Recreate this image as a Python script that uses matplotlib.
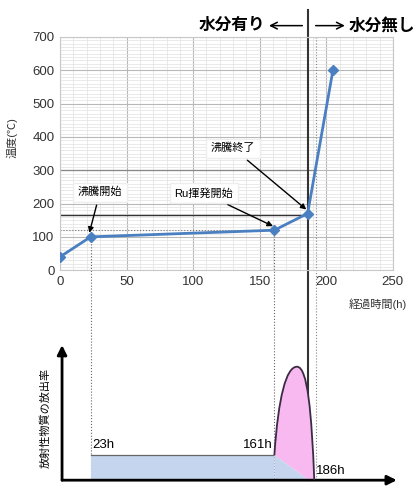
import matplotlib.pyplot as plt
from matplotlib.path import Path
from matplotlib.patches import PathPatch, Polygon
from matplotlib.ticker import MultipleLocator
import matplotlib.transforms as mtransforms

plt.rcParams['font.family'] = ['Liberation Sans', 'Noto Sans CJK JP', 'DejaVu Sans']

# 経過時間(h) と 温度(℃)
hours = [0, 23, 161, 186, 205]
temps = [40, 100, 120, 170, 600]

# 注記
notes = ['沸騰開始', 'Ru揮発開始', '沸騰終了']
note_xy = [(23, 100), (161, 120), (186, 170)]
note_text_xy = [(30, 234), (108, 231), (130, 366)]

# 放出率の模式図 (相対値)
release_start = 23
release_flat_end = 161
release_end = 186
flat_level = 0.185
peak_hour = 178
peak_level = 0.84
bump_end = 191

line_blue = '#4a7fc1'

fig = plt.figure(figsize=(4.17, 4.93), dpi=100)
ax = fig.add_axes([0.144, 0.452, 0.798, 0.473])
ax.set_xlim(0, 250)
ax.set_ylim(0, 700)
ax.xaxis.set_major_locator(MultipleLocator(50))
ax.yaxis.set_major_locator(MultipleLocator(100))
ax.xaxis.set_minor_locator(MultipleLocator(10))
ax.yaxis.set_minor_locator(MultipleLocator(10))
ax.grid(which='major', color='#b8b8b8', lw=0.8)
ax.grid(which='minor', color='#e2e2e2', lw=0.5)
ax.set_axisbelow(True)
ax.tick_params(which='both', length=0, labelsize=9.5, colors='#333333', pad=4)
for s in ax.spines.values():
    s.set_color('#c8c8c8')

# 補助線
ax.plot([0, 186], [165, 165], color='#333333', lw=1.0, zorder=2)
ax.plot([0, 161], [120, 120], color='#777777', lw=0.8, ls=':', zorder=2)
ax.plot([0, 192], [300, 300], color='#888888', lw=0.9, zorder=2)

ax.plot(hours, temps, color=line_blue, lw=2, marker='D', ms=5.5, zorder=4)

for txt, xy, txy in zip(notes, note_xy, note_text_xy):
    ax.annotate(txt, xy=(xy[0] - 1, xy[1] + 12), xytext=txy, fontsize=8, ha='center', va='center',
                bbox=dict(boxstyle='square,pad=0.4', fc='white', ec='#eeeeee'),
                arrowprops=dict(arrowstyle='-|>', color='black', lw=1.0, mutation_scale=8,
                                shrinkA=2, shrinkB=0),
                zorder=5)

fig.text(0.975, 0.382, '経過時間(h)', fontsize=8, ha='right', va='center', color='#333333')
fig.text(0.028, 0.72, '温度(℃)', fontsize=8, rotation=90, ha='center', va='center', color='#333333')

# 下段: 放出率
bx = fig.add_axes([0.144, 0.026, 0.798, 0.274])
bx.set_xlim(0, 250)
bx.set_ylim(0, 1)
bx.axis('off')

bx.fill_between([release_start, release_flat_end], 0, flat_level, color='#c5d5ee', lw=0)
bx.plot([release_start, release_flat_end], [flat_level, flat_level], color='#666666', lw=0.9)

bump = Path([(release_flat_end, flat_level), (164, 0.62), (170, peak_level), (peak_hour, peak_level),
             (186, peak_level), (189, 0.5), (bump_end, 0.0),
             (release_end + 1, 0.0), (release_flat_end, flat_level)],
            [Path.MOVETO, Path.CURVE4, Path.CURVE4, Path.CURVE4,
             Path.CURVE4, Path.CURVE4, Path.CURVE4, Path.LINETO, Path.CLOSEPOLY])
bx.add_patch(PathPatch(bump, fc='#f7b9f0', ec='none', zorder=2))
outline = Path(bump.vertices[:7], bump.codes[:7])
bx.add_patch(PathPatch(outline, fc='none', ec='#3b2b45', lw=1.3, zorder=4))
bx.add_patch(Polygon([(release_flat_end, flat_level), (release_end + 1, 0.0), (release_flat_end, 0.0)],
                     closed=True, fc='#c5d5ee', ec='none', zorder=3))

bx.annotate('', xy=(1.5, 1.0), xytext=(1.5, 0), arrowprops=dict(arrowstyle='-|>', lw=2, color='black',
            mutation_scale=14, shrinkA=0, shrinkB=0), annotation_clip=False)
bx.annotate('', xy=(253, 0), xytext=(1.5, 0), arrowprops=dict(arrowstyle='-|>', lw=2, color='black',
            mutation_scale=14, shrinkA=0, shrinkB=0), annotation_clip=False)

bx.text(release_start + 1, flat_level + 0.03, '23h', fontsize=9.5, ha='left', va='bottom')
bx.text(release_flat_end - 1, flat_level + 0.03, '161h', fontsize=9.5, ha='right', va='bottom')
bx.text(bump_end + 1, 0.02, '186h', fontsize=9.5, ha='left', va='bottom')
fig.text(0.108, 0.152, '放射性物質の放出率', fontsize=8, rotation=90, ha='center', va='center')

# 上下をつなぐ縦線
tr = mtransforms.blended_transform_factory(ax.transData, fig.transFigure)
y_bottom = 0.026
ax.plot([23, 23], [1 - 235 / 493, y_bottom], transform=tr, color='#666666', lw=0.8, ls=':', clip_on=False)
ax.plot([161, 161], [1 - 230 / 493, y_bottom], transform=tr, color='#666666', lw=0.8, ls=':', clip_on=False)
ax.plot([192, 192], [0.925, y_bottom], transform=tr, color='#888888', lw=0.8, ls=':', clip_on=False)
ax.plot([186, 186], [1 - 10 / 493, y_bottom], transform=tr, color='#333333', lw=1.5, clip_on=False)

# 上部の見出し
fig.text(0.635, 0.948, '水分有り', fontsize=12, fontweight='semibold', ha='right', va='center')
fig.text(0.835, 0.948, '水分無し', fontsize=12, fontweight='semibold', ha='left', va='center')
head = dict(arrowstyle='->', color='black', lw=1.1, mutation_scale=12, shrinkA=0, shrinkB=0)
fig.add_artist(plt.Annotation('', xy=(0.645, 0.948), xytext=(0.725, 0.948), xycoords='figure fraction',
                              textcoords='figure fraction', arrowprops=head))
fig.add_artist(plt.Annotation('', xy=(0.827, 0.948), xytext=(0.757, 0.948), xycoords='figure fraction',
                              textcoords='figure fraction', arrowprops=head))

fig.savefig('out.png', dpi=100)
